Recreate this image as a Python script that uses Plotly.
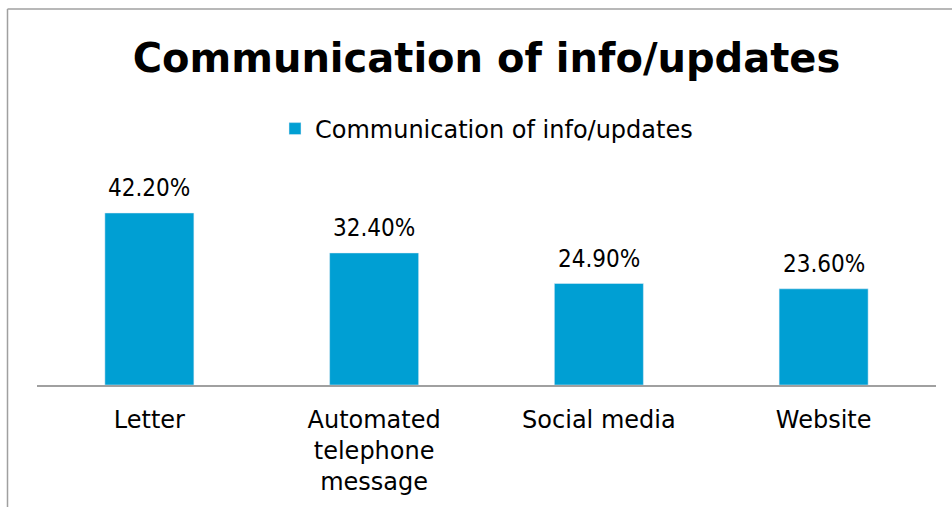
import plotly.graph_objects as go

categories = ["Letter", "Automated<br>telephone<br>message", "Social media", "Website"]
values = [42.2, 32.4, 24.9, 23.6]
labels = ["42.20%", "32.40%", "24.90%", "23.60%"]
series_name = "Communication of info/updates"
title = "Communication of info/updates"

L, R, T, B = 37, 16, 165, 122
W, H = 952, 507
pw, ph = W - L - R, H - T - B

def px2x(p):
    return (p - L) / pw

def py2y(p):
    return (H - B - p) / ph

fig = go.Figure()
fig.add_trace(go.Bar(
    x=categories, y=values, name=series_name,
    marker=dict(color="#009fd3"),
    showlegend=True,
))

for c, v, t in zip(categories, values, labels):
    fig.add_annotation(x=c, y=v, xref="x", yref="y", text=t, showarrow=False,
                       yanchor="middle", yshift=25,
                       font=dict(size=24, family="DejaVu Sans Condensed", color="#000000"))

fig.update_layout(
    width=W, height=H,
    margin=dict(l=L, r=R, t=T, b=B),
    paper_bgcolor="white", plot_bgcolor="white",
    bargap=0.604,
    title=dict(text="<b>" + title + "</b>", x=0.5, xref="paper", xanchor="center",
               y=1 - 58 / H, yanchor="middle",
               font=dict(size=40, family="DejaVu Sans", color="#000000")),
    legend=dict(orientation="h", x=0.5, xanchor="center", y=py2y(129), yanchor="middle",
                font=dict(size=24, family="DejaVu Sans", color="#000000"),
                itemwidth=30, bgcolor="rgba(0,0,0,0)"),
    xaxis=dict(showline=True, linecolor="#a0a0a0", linewidth=1.5, ticks="",
               tickfont=dict(size=24, family="DejaVu Sans", color="#000000"),
               ticklabelstandoff=12,
               showgrid=False),
    yaxis=dict(range=[0, (H - B - T) / 4.076], visible=False, showgrid=False, zeroline=False),
    shapes=[
        dict(type="line", xref="paper", yref="paper",
             x0=px2x(7.5), x1=px2x(7.5), y0=py2y(510), y1=py2y(9),
             line=dict(color="#a0a0a0", width=1.5)),
        dict(type="line", xref="paper", yref="paper",
             x0=px2x(7.5), x1=px2x(960), y0=py2y(9), y1=py2y(9),
             line=dict(color="#a0a0a0", width=1.5)),
    ],
)

fig.write_html("out.html")
